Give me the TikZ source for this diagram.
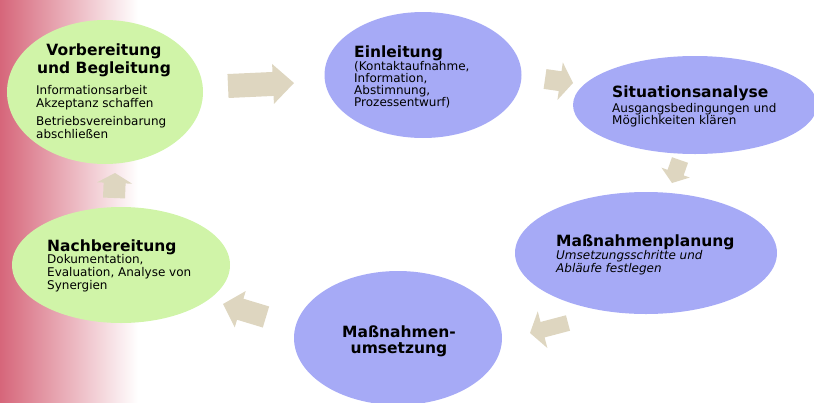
\documentclass[tikz,border=0pt]{standalone}
\usepackage{fontspec}
\setmainfont{DejaVu Sans}
\usetikzlibrary{shapes.geometric,calc}
\definecolor{phasegreen}{HTML}{D0F4A8}
\definecolor{phaseblue}{HTML}{A6AAF6}
\definecolor{arrowbeige}{HTML}{DED6C0}
\definecolor{bandred}{HTML}{D6667A}
\tikzset{
  phase/.style={ellipse, draw=none, inner sep=0pt},
  greenphase/.style={phase, fill=phasegreen},
  bluephase/.style={phase, fill=phaseblue},
  ttl/.style={inner sep=0pt, font={\fontsize{15.5}{18}\selectfont\bfseries}},
  body/.style={inner sep=0pt, align=left, anchor=base west, font={\fontsize{12}{13}\selectfont}},
  arrowfill/.style={fill=arrowbeige, draw=none}
}
% #1 tail, #2 tip, #3 half shaft width, #4 half head width, #5 head length
\newcommand{\blockarr}[5]{%
  \coordinate (#1-b) at ($(#2)!#5!(#1)$);
  \fill[arrowfill] ($(#1)!#3!90:(#2)$) -- ($(#1-b)!#3!90:(#2)$) -- ($(#1-b)!#4!90:(#2)$)
     -- (#2) -- ($(#1-b)!#4!-90:(#2)$) -- ($(#1-b)!#3!-90:(#2)$) -- ($(#1)!#3!-90:(#2)$) -- cycle;
}
\begin{document}
\begin{tikzpicture}[x=1pt,y=-1pt]
\useasboundingbox (0,0) rectangle (814,402);
\clip (0,0) rectangle (814,402);
\shade[left color=bandred, right color=white] (0,0) rectangle (138,402);

% phases
\node[greenphase, minimum width=196pt, minimum height=144pt] (vorb) at (105,92) {};
\node[greenphase, minimum width=218pt, minimum height=116pt] (nach) at (121,265) {};
\node[bluephase, minimum width=197pt, minimum height=126pt] (einl) at (423,75) {};
\node[bluephase, minimum width=244pt, minimum height=98pt] (sit) at (695,105) {};
\node[bluephase, minimum width=262pt, minimum height=122pt] (plan) at (646,253) {};
\node[bluephase, minimum width=208pt, minimum height=134pt] (ums) at (398,338) {};

% texts (anchor base = baseline of the last line)
\node[ttl, align=center, anchor=base] (vorbT) at (104,73) {Vorbereitung\\und Begleitung};
\node[body] (vorbB1) at (36,107) {Informationsarbeit\\Akzeptanz schaffen};
\node[body] (vorbB2) at (36,138) {Betriebsvereinbarung\\abschließen};

\node[ttl, anchor=base west] (nachT) at (47,251) {Nachbereitung};
\node[body] (nachB) at (47,289) {Dokumentation,\\Evaluation, Analyse von\\Synergien};

\node[ttl, anchor=base west] (einlT) at (354,57) {Einleitung};
\node[body, font={\fontsize{12}{12}\selectfont}] (einlB) at (354,106) {(Kontaktaufnahme,\\Information,\\Abstimnung,\\Prozessentwurf)};

\node[ttl, anchor=base west] (sitT) at (612,97) {Situationsanalyse};
\node[body, font={\fontsize{12}{12}\selectfont}] (sitB) at (612,124) {Ausgangsbedingungen und\\Möglichkeiten klären};

\node[ttl, anchor=base west] (planT) at (556,246) {Maßnahmenplanung};
\node[body, font={\fontsize{12}{13}\selectfont\itshape}] (planB) at (556,272) {Umsetzungsschritte und\\Abläufe festlegen};

\node[ttl, align=center, anchor=base, font={\fontsize{15.5}{16}\selectfont\bfseries}] (umsT) at (399,353) {Maßnahmen-\\umsetzung};

% block arrows
\coordinate (a1) at (228,86);  \coordinate (a1h) at (294,83);
\coordinate (a2) at (545,79);  \coordinate (a2h) at (573,83);
\coordinate (a3) at (680,160); \coordinate (a3h) at (672,183);
\coordinate (a4) at (568,323); \coordinate (a4h) at (530,333);
\coordinate (a5) at (266,317); \coordinate (a5h) at (223,304);
\coordinate (a6) at (114,198); \coordinate (a6h) at (115,173);
\blockarr{a1}{a1h}{12pt}{20pt}{21pt}
\blockarr{a2}{a2h}{10pt}{19pt}{13pt}
\blockarr{a3}{a3h}{8.5pt}{15pt}{11pt}
\blockarr{a4}{a4h}{8pt}{19pt}{13pt}
\blockarr{a5}{a5h}{11pt}{19pt}{18pt}
\blockarr{a6}{a6h}{11pt}{17.5pt}{10pt}
\end{tikzpicture}
\end{document}
